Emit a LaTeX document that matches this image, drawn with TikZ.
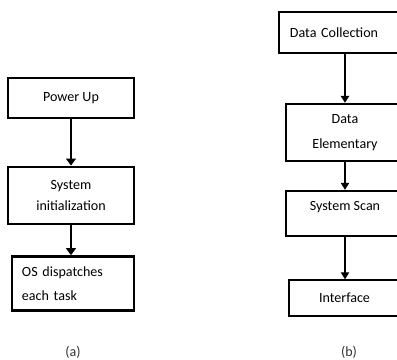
\documentclass[tikz,border=0pt]{standalone}
\usepackage{fontspec}
\setmainfont{Carlito}
\usetikzlibrary{arrows.meta}

\begin{document}
\begin{tikzpicture}[x=0.025cm,y=-0.025cm]
		\tikzstyle{heavy-box}=[draw,line width=2pt,inner sep=0.25cm,align=center]
		\tikzstyle{plain-box}=[draw,line width=1.7pt,inner sep=0.25cm,align=center]
		\tikzstyle{thin-box}=[draw,line width=1pt,inner sep=0.25cm,align=center]
		\tikzstyle{heavy-flow}=[-{Triangle[width=7pt,length=5pt]},line width=1.6pt]
		\tikzstyle{thin-flow}=[-{Triangle[width=6pt,length=5pt]},line width=0.8pt]
		\useasboundingbox (0,0) rectangle (397,360);
		\clip (0,0) rectangle (397,360);
		% chart (a)
		\node [heavy-box,minimum width=3.15cm,minimum height=1cm] at (71,98) (pu) {Power Up};
		\node [heavy-box,minimum width=3.15cm,minimum height=1.425cm] at (71,195.5) (si) {System\\[3pt]initialization};
		\node [heavy-box,minimum width=3.05cm,minimum height=1.325cm,text width=2.55cm,align=left] at (73,283.5) (os) {OS dispatches\\[5pt]each task} (73,352) node[color=black!80] (la) {(a)};
		% chart (b)
		\node [plain-box,minimum width=3.15cm,minimum height=1.025cm,inner xsep=0.27cm,text width=2.6cm,align=left] at (342,32.5) (dc) {Data Collection};
		\node [plain-box,minimum width=2.95cm,minimum height=1.425cm] at (345,132.5) (de) {Data\\[6pt]Elementary};
		\node [plain-box,minimum width=2.95cm,minimum height=1.125cm,inner ysep=0.1cm,text height=0.4cm,text depth=0.525cm] at (345,213.5) (ss) {System Scan};
		\node [thin-box,minimum width=2.775cm,minimum height=0.9cm] at (344.5,298) (in) {Interface} (349,352) node[color=black!80] (lb) {(b)};
		% flows
		\draw [heavy-flow] (pu) -- (si);
		\draw [heavy-flow] (si) -- (os.north -| si.south);
		\draw [thin-flow,line width=1.2pt] (de.north |- dc.south) -- (de.north);
		\draw [thin-flow] (de) -- (ss);
		\draw [thin-flow] (ss) -- (in.north -| ss.south);
	\end{tikzpicture}
\end{document}
